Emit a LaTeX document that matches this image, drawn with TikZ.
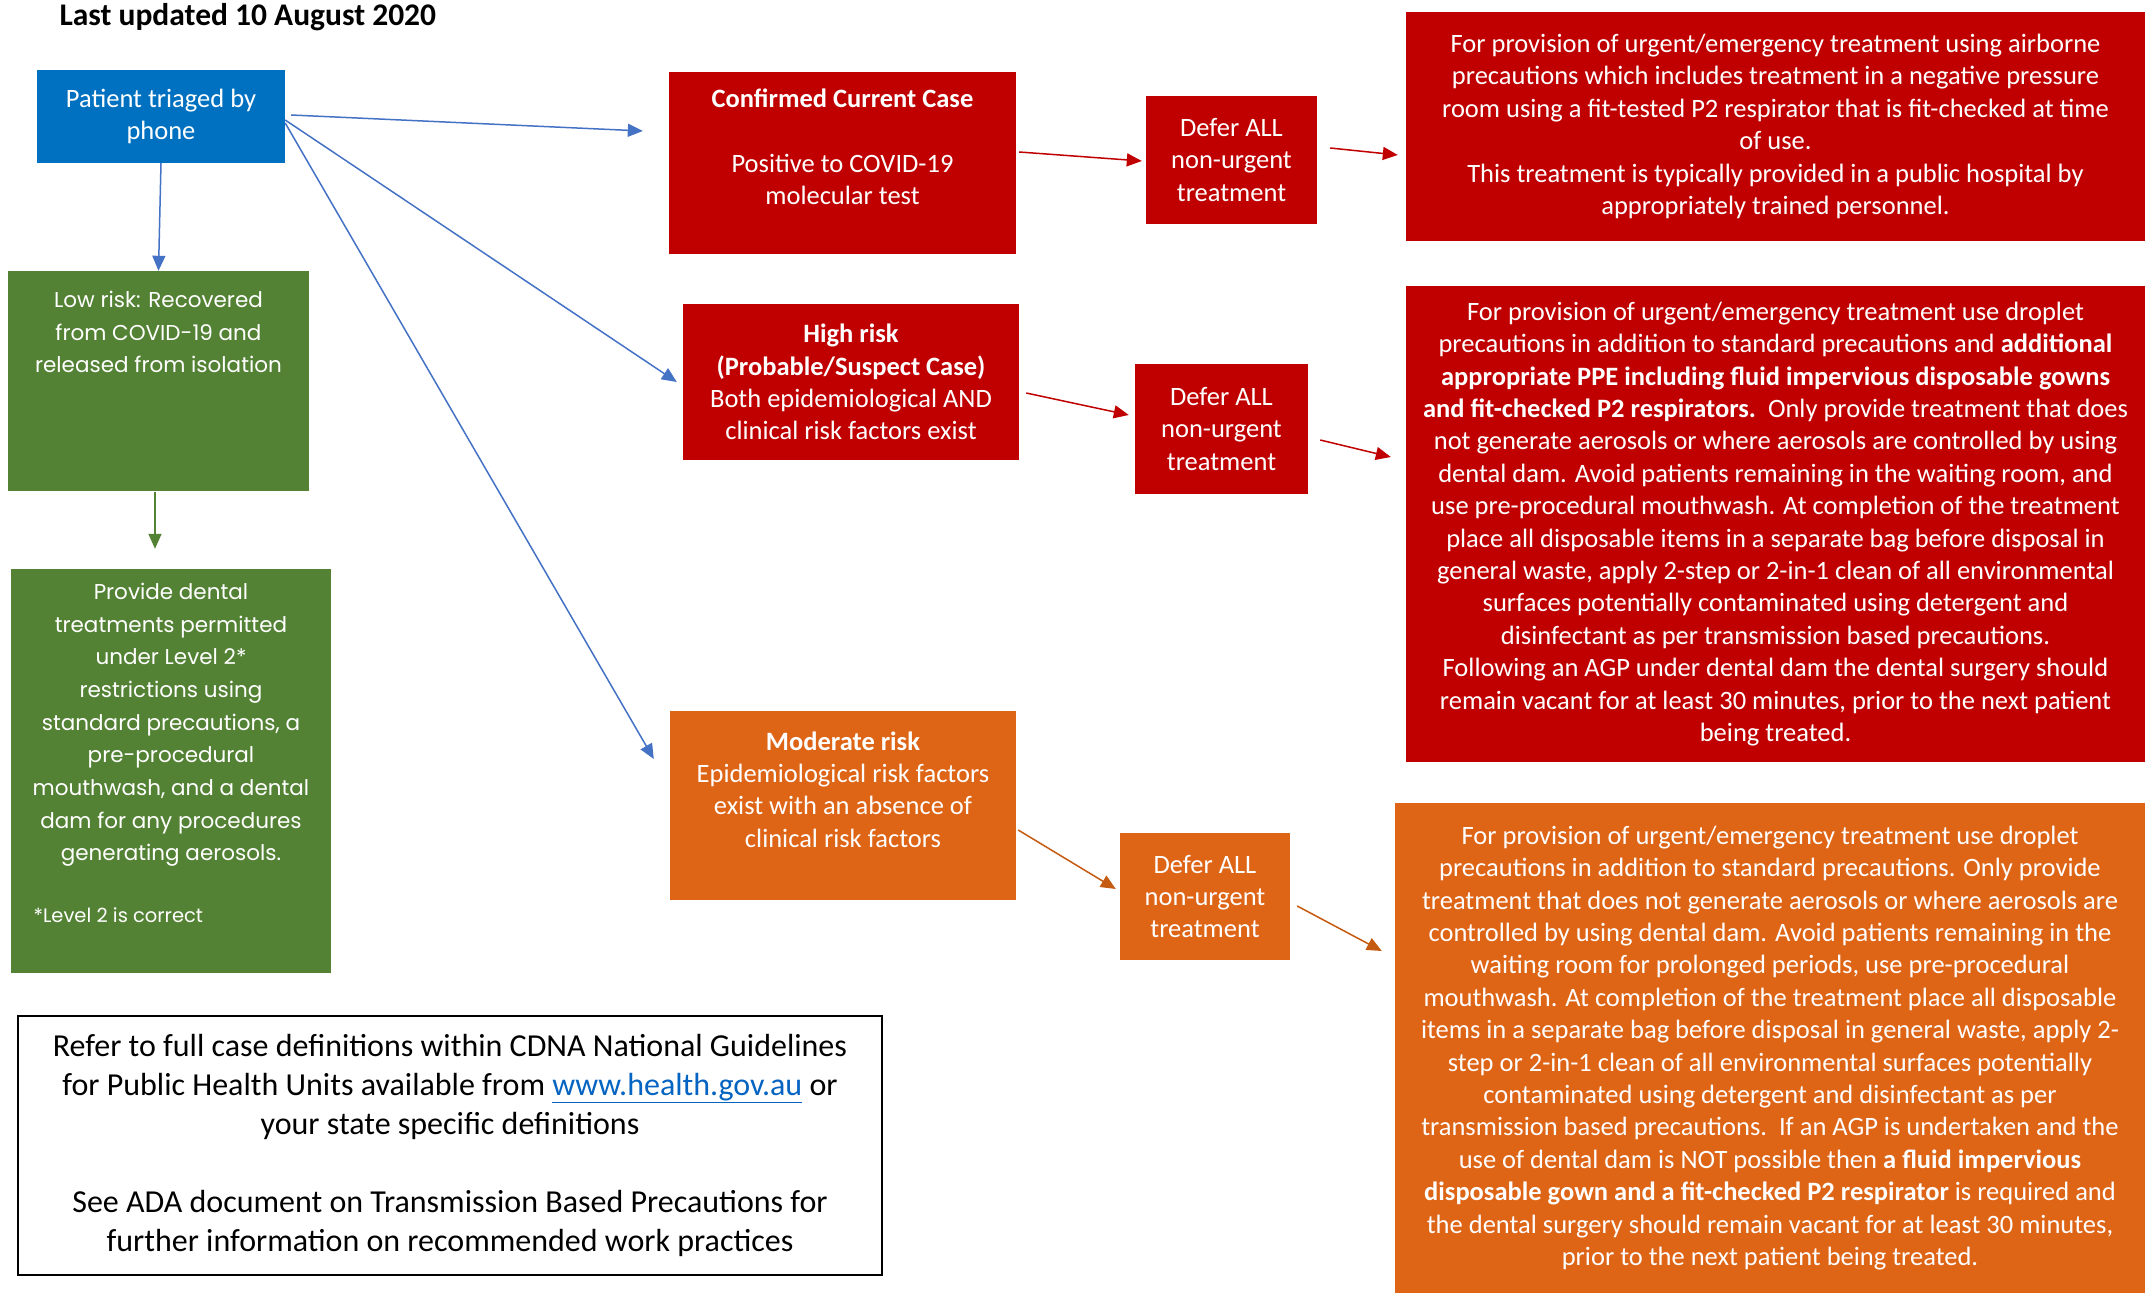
\documentclass[tikz,border=0pt]{standalone}
\usepackage{fontspec}
\setmainfont{Carlito}
\newfontfamily\gothic{Poppins}
\usetikzlibrary{arrows.meta}

\definecolor{triageblue}{HTML}{0070C0}
\definecolor{arrowblue}{HTML}{4472C4}
\definecolor{alertred}{HTML}{C00000}
\definecolor{warnorange}{HTML}{DE6416}
\definecolor{orangeline}{HTML}{C55A11}
\definecolor{safegreen}{HTML}{548235}
\definecolor{linkblue}{HTML}{0563C1}

\begin{document}
\begin{tikzpicture}[x=1pt, y=-1pt,
		>={Triangle[length=15pt,width=13pt]},
		body/.style={font=\fontsize{26.5}{32.4}\selectfont, text=white, align=center, inner sep=0pt},
		redbox/.style={body, fill=alertred},
		orangebox/.style={body, fill=warnorange},
		greenbox/.style={body, fill=safegreen, font=\gothic\fontsize{21.5}{32.7}\selectfont},
		bluearrow/.style={->, draw=arrowblue, fill=arrowblue, line width=1.5pt},
		redarrow/.style={->, draw=alertred, fill=alertred, line width=1.5pt},
		orangearrow/.style={->, draw=orangeline, fill=orangeline, line width=1.5pt}]
	\useasboundingbox (0,0) rectangle (2145,1293);

	% заголовок
	\node [anchor=west, font=\bfseries\fontsize{31.5}{38}\selectfont] (title) at (56,17) {Last updated 10 August 2020};

	% левая колонка
	\node [body, fill=triageblue, minimum width=248pt, minimum height=93pt] (triage) at (161,116.5) {Patient triaged by\\phone};
	\node [greenbox, minimum width=301pt, minimum height=220pt] (lowrisk) at (158.5,381) {Low risk: Recovered\\from COVID-19 and\\released from isolation\\~\\~\\~};
	\node [greenbox, minimum width=320pt, minimum height=404pt] (lowcare) at (171,771) {Provide dental\\treatments permitted\\under Level 2*\\restrictions using\\standard precautions, a\\pre-procedural\\mouthwash, and a dental\\dam for any procedures\\generating aerosols.\\~\\~\\~};
	\node [anchor=west, text=white, font=\gothic\fontsize{19.5}{24}\selectfont] (lvlnote) at (30,915) {*Level 2 is correct};

	% пояснение внизу
	\node [draw=black, line width=1.5pt, fill=white, minimum width=864pt, minimum height=259pt, align=center, font=\fontsize{32}{39}\selectfont] (refnote) at (450,1145.5) {Refer to full case definitions within CDNA National Guidelines\\for Public Health Units available from \textcolor{linkblue}{\underline{www.health.gov.au}} or\\your state specific definitions\\~\\See ADA document on Transmission Based Precautions for\\further information on recommended work practices};

	% подтверждённый случай
	\node [redbox, minimum width=347pt, minimum height=182pt] (confirmed) at (842.5,163) {\textbf{Confirmed Current Case}\\~\\Positive to COVID-19\\molecular test\\~};
	\node [redbox, minimum width=171pt, minimum height=128pt] (defer1) at (1231.5,160) {Defer ALL\\non-urgent\\treatment};
	\node [redbox, minimum width=739pt, minimum height=229pt] (airborne) at (1775.5,126.5) {For provision of urgent/emergency treatment using airborne\\precautions which includes treatment in a negative pressure\\room using a fit-tested P2 respirator that is fit-checked at time\\of use.\\This treatment is typically provided in a public hospital by\\appropriately trained personnel.};

	% высокий риск
	\node [redbox, minimum width=336pt, minimum height=156pt] (highrisk) at (851,382) {\textbf{High risk}\\\textbf{(Probable/Suspect Case)}\\Both epidemiological AND\\clinical risk factors exist};
	\node [redbox, minimum width=173pt, minimum height=130pt] (defer2) at (1221.5,429) {Defer ALL\\non-urgent\\treatment};
	\node [redbox, minimum width=739pt, minimum height=476pt] (droplethigh) at (1775.5,524) {For provision of urgent/emergency treatment use droplet\\precautions in addition to standard precautions and \textbf{additional}\\\textbf{appropriate PPE including fluid impervious disposable gowns}\\\textbf{and fit-checked P2 respirators.}\ \ Only provide treatment that does\\not generate aerosols or where aerosols are controlled by using\\dental dam. Avoid patients remaining in the waiting room, and\\use pre-procedural mouthwash. At completion of the treatment\\place all disposable items in a separate bag before disposal in\\general waste, apply 2-step or 2-in-1 clean of all environmental\\surfaces potentially contaminated using detergent and\\disinfectant as per transmission based precautions.\\Following an AGP under dental dam the dental surgery should\\remain vacant for at least 30 minutes, prior to the next patient\\being treated.};

	% умеренный риск
	\node [orangebox, minimum width=346pt, minimum height=189pt] (modrisk) at (843,805.5) {\textbf{Moderate risk}\\Epidemiological risk factors\\exist with an absence of\\clinical risk factors\\~};
	\node [orangebox, minimum width=170pt, minimum height=127pt] (defer3) at (1205,896.5) {Defer ALL\\non-urgent\\treatment};
	\node [orangebox, minimum width=750pt, minimum height=490pt] (dropletmod) at (1770,1048) {For provision of urgent/emergency treatment use droplet\\precautions in addition to standard precautions. Only provide\\treatment that does not generate aerosols or where aerosols are\\controlled by using dental dam. Avoid patients remaining in the\\waiting room for prolonged periods, use pre-procedural\\mouthwash. At completion of the treatment place all disposable\\items in a separate bag before disposal in general waste, apply 2-\\step or 2-in-1 clean of all environmental surfaces potentially\\contaminated using detergent and disinfectant as per\\transmission based precautions.\ \ If an AGP is undertaken and the\\use of dental dam is NOT possible then \textbf{a fluid impervious}\\\textbf{disposable gown and a fit-checked P2 respirator} is required and\\the dental surgery should remain vacant for at least 30 minutes,\\prior to the next patient being treated.};

	% стрелки от сортировки
	\draw [bluearrow] ([shift={(6,-1.5)}]triage.east) -- ([shift={(-26,-32)}]confirmed.west);
	\draw [bluearrow] ([shift={(0,3.5)}]triage.east) -- ([shift={(-6,0)}]highrisk.west);
	\draw [bluearrow] ([shift={(0,6.5)}]triage.east) -- ([shift={(-16,-46.5)}]modrisk.west);
	\draw [bluearrow] (triage.south) -- (lowrisk.north);
	\draw [->, draw=safegreen, fill=safegreen, line width=1.5pt] ([shift={(-3.5,1)}]lowrisk.south) -- ([shift={(-16,-20)}]lowcare.north);

	% красные стрелки
	\draw [redarrow] ([shift={(3,-11)}]confirmed.east) -- ([shift={(-4,1)}]defer1.west);
	\draw [redarrow] ([shift={(13,-12)}]defer1.east) -- ([shift={(-8,28.5)}]airborne.west);
	\draw [redarrow] ([shift={(7,11)}]highrisk.east) -- ([shift={(-6,-14)}]defer2.west);
	\draw [redarrow] ([shift={(12,11)}]defer2.east) -- ([shift={(-15,-67)}]droplethigh.west);

	% оранжевые стрелки
	\draw [orangearrow] ([shift={(2,24.5)}]modrisk.east) -- ([shift={(-4,-7.5)}]defer3.west);
	\draw [orangearrow] ([shift={(7,9.5)}]defer3.east) -- ([shift={(-13,-97)}]dropletmod.west);
\end{tikzpicture}
\end{document}
